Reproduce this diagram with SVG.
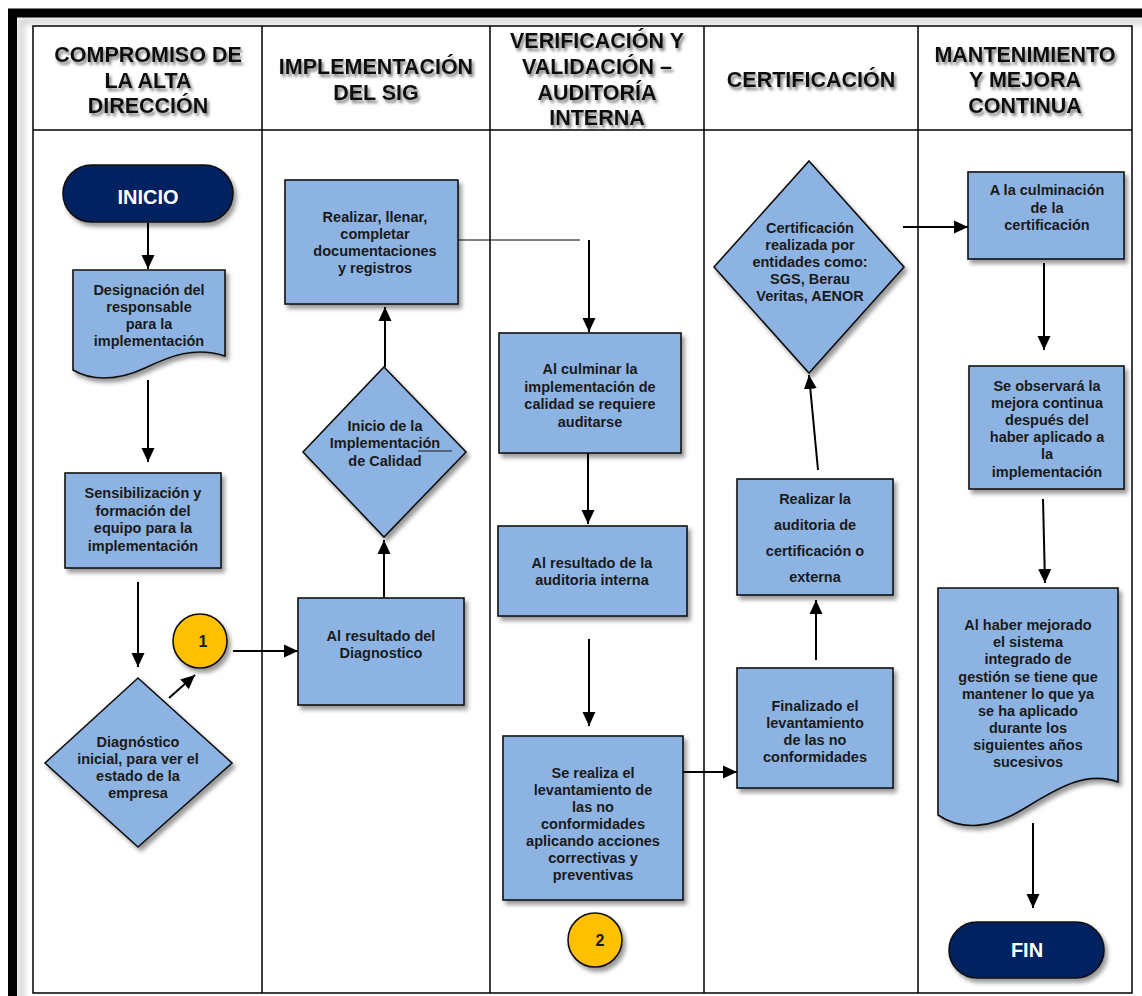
<svg xmlns="http://www.w3.org/2000/svg" width="1142" height="996" viewBox="0 0 1142 996">
<defs>
<style>
.hd{font-family:"Liberation Sans",Arial,sans-serif;font-weight:bold;font-size:21.5px;fill:#111;text-anchor:middle;filter:url(#tsh)}
.t{font-family:"Liberation Sans",Arial,sans-serif;font-weight:bold;font-size:14.5px;fill:#1a1a1a;text-anchor:middle}
.tw{font-family:"Liberation Sans",Arial,sans-serif;font-weight:bold;font-size:20px;fill:#fff;text-anchor:middle}
.num{font-family:"Liberation Sans",Arial,sans-serif;font-weight:bold;font-size:16px;fill:#1a1a1a;text-anchor:middle}
.n{fill:#8DB3E2;stroke:#111;stroke-width:1.6;filter:url(#sh)}
.term{fill:#002060;stroke:#111;stroke-width:1.6;filter:url(#sh)}
.circ{fill:#FFC000;stroke:#111;stroke-width:1.6;filter:url(#sh)}
.c{stroke:#000;stroke-width:2;fill:none;marker-end:url(#ah)}
.grid{stroke:#000;stroke-width:1.5;fill:none}
</style>
<filter id="sh" x="-20%" y="-20%" width="150%" height="150%"><feDropShadow dx="3" dy="4" stdDeviation="2.2" flood-color="#000" flood-opacity="0.4"/></filter>
<filter id="tsh" x="-10%" y="-30%" width="130%" height="180%"><feDropShadow dx="2" dy="3" stdDeviation="1.6" flood-color="#444" flood-opacity="0.7"/></filter>
<filter id="blur"><feGaussianBlur stdDeviation="3"/></filter>
<marker id="ah" viewBox="0 0 14 14" refX="14" refY="7" markerWidth="14" markerHeight="14" markerUnits="userSpaceOnUse" orient="auto"><path d="M0,0.5 L14,7 L0,13.5 Z" fill="#000"/></marker>
</defs>
<rect width="1142" height="996" fill="#fff"/>
<g id="frame">
<rect x="21" y="21" width="1140" height="1000" fill="none" stroke="#c8c8c8" stroke-width="5" filter="url(#blur)"/>
<rect x="12.5" y="13" width="1150" height="1010" fill="none" stroke="#000" stroke-width="9"/>
</g>
<g id="lanes">
<rect class="grid" x="33" y="26" width="1099" height="967"/>
<line class="grid" x1="33" y1="130" x2="1132" y2="130"/>
<line class="grid" x1="262" y1="26" x2="262" y2="993"/>
<line class="grid" x1="490" y1="26" x2="490" y2="993"/>
<line class="grid" x1="704" y1="26" x2="704" y2="993"/>
<line class="grid" x1="918" y1="26" x2="918" y2="993"/>
<text class="hd" x="148" y="62">COMPROMISO DE</text>
<text class="hd" x="148" y="88">LA ALTA</text>
<text class="hd" x="148" y="113">DIRECCIÓN</text>
<text class="hd" x="376" y="74">IMPLEMENTACIÓN</text>
<text class="hd" x="376" y="100">DEL SIG</text>
<text class="hd" x="597" y="48">VERIFICACIÓN Y</text>
<text class="hd" x="597" y="74">VALIDACIÓN –</text>
<text class="hd" x="597" y="100">AUDITORÍA</text>
<text class="hd" x="597" y="125">INTERNA</text>
<text class="hd" x="811" y="87">CERTIFICACIÓN</text>
<text class="hd" x="1025" y="62">MANTENIMIENTO</text>
<text class="hd" x="1025" y="87">Y MEJORA</text>
<text class="hd" x="1025" y="113">CONTINUA</text>
</g>
<g id="connectors">
<line class="c" x1="148" y1="223" x2="148" y2="269"/>
<line class="c" x1="148" y1="380" x2="148" y2="462"/>
<line class="c" x1="138" y1="582" x2="138" y2="667"/>
<line class="c" x1="169" y1="698" x2="195" y2="675"/>
<line class="c" x1="233" y1="651" x2="298" y2="651"/>
<line class="c" x1="384" y1="597" x2="384" y2="540"/>
<line class="c" x1="385" y1="367" x2="385" y2="307"/>
<line x1="458" y1="240" x2="580" y2="240" stroke="#000" stroke-width="1"/>
<line class="c" x1="589" y1="240" x2="589" y2="332"/>
<line class="c" x1="588" y1="453" x2="588" y2="524"/>
<line class="c" x1="589" y1="639" x2="589" y2="726"/>
<line class="c" x1="683" y1="772" x2="737" y2="772"/>
<line class="c" x1="816" y1="660" x2="816" y2="600"/>
<line class="c" x1="818" y1="470" x2="809" y2="375"/>
<line class="c" x1="903" y1="227" x2="968" y2="227"/>
<line class="c" x1="1044" y1="263" x2="1044" y2="350"/>
<line class="c" x1="1043" y1="499" x2="1045" y2="583"/>
<line class="c" x1="1033" y1="823" x2="1033" y2="908"/>
</g>
<g id="inicio">
<rect class="term" x="63" y="165" width="170" height="57" rx="28.5"/>
<text class="tw" x="148" y="204">INICIO</text>
</g>
<g id="designacion">
<path class="n" d="M73,270 H225 V356 C195,346 170,356 145,368 C115,382 90,380 73,370 Z"/>
<text class="t" x="149" y="295">Designación del</text>
<text class="t" x="149" y="312">responsable</text>
<text class="t" x="149" y="329">para la</text>
<text class="t" x="149" y="346">implementación</text>
</g>
<g id="sensibilizacion">
<rect class="n" x="65" y="473" width="156" height="95"/>
<text class="t" x="143" y="498">Sensibilización y</text>
<text class="t" x="143" y="516">formación del</text>
<text class="t" x="143" y="533">equipo para la</text>
<text class="t" x="143" y="551">implementación</text>
</g>
<g id="diagnostico">
<polygon class="n" points="138,678 232,763 138,847 45,763"/>
<text class="t" x="138" y="747">Diagnóstico</text>
<text class="t" x="138" y="764">inicial, para ver el</text>
<text class="t" x="138" y="781">estado de la</text>
<text class="t" x="138" y="798">empresa</text>
</g>
<g id="conector1">
<circle class="circ" cx="200" cy="641" r="27"/>
<text class="num" x="203" y="647">1</text>
</g>
<g id="resultado-diagnostico">
<rect class="n" x="298" y="598" width="166" height="107"/>
<text class="t" x="381" y="641">Al resultado del</text>
<text class="t" x="381" y="658">Diagnostico</text>
</g>
<g id="inicio-implementacion">
<polygon class="n" points="384,367 466,452 384,537 303,452"/>
<text class="t" x="385" y="431">Inicio de la</text>
<text class="t" x="385" y="448">Implementación</text>
<line x1="418" y1="451" x2="452" y2="451" stroke="#1a1a1a" stroke-width="1"/>
<text class="t" x="385" y="466">de Calidad</text>
</g>
<g id="realizar-documentaciones">
<rect class="n" x="285" y="180" width="173" height="124"/>
<text class="t" x="375" y="222">Realizar, llenar,</text>
<text class="t" x="375" y="239">completar</text>
<text class="t" x="375" y="256">documentaciones</text>
<text class="t" x="375" y="273">y registros</text>
</g>
<g id="culminar-implementacion">
<rect class="n" x="499" y="333" width="182" height="120"/>
<text class="t" x="590" y="374">Al culminar la</text>
<text class="t" x="590" y="392">implementación de</text>
<text class="t" x="590" y="409">calidad se requiere</text>
<text class="t" x="590" y="427">auditarse</text>
</g>
<g id="resultado-auditoria">
<rect class="n" x="498" y="526" width="189" height="90"/>
<text class="t" x="592" y="568">Al resultado de la</text>
<text class="t" x="592" y="585">auditoria interna</text>
</g>
<g id="levantamiento">
<rect class="n" x="503" y="736" width="180" height="164"/>
<text class="t" x="593" y="778">Se realiza el</text>
<text class="t" x="593" y="795">levantamiento de</text>
<text class="t" x="593" y="812">las no</text>
<text class="t" x="593" y="829">conformidades</text>
<text class="t" x="593" y="846">aplicando acciones</text>
<text class="t" x="593" y="863">correctivas y</text>
<text class="t" x="593" y="880">preventivas</text>
</g>
<g id="conector2">
<circle class="circ" cx="595" cy="940" r="27"/>
<text class="num" x="600" y="946">2</text>
</g>
<g id="finalizado">
<rect class="n" x="737" y="668" width="156" height="120"/>
<text class="t" x="815" y="711">Finalizado el</text>
<text class="t" x="815" y="728">levantamiento</text>
<text class="t" x="815" y="745">de las no</text>
<text class="t" x="815" y="762">conformidades</text>
</g>
<g id="auditoria-certificacion">
<rect class="n" x="737" y="479" width="156" height="116"/>
<text class="t" x="815" y="504">Realizar la</text>
<text class="t" x="815" y="530">auditoria de</text>
<text class="t" x="815" y="556">certificación o</text>
<text class="t" x="815" y="582">externa</text>
</g>
<g id="certificacion">
<polygon class="n" points="809,161 904,267 809,373 714,267"/>
<text class="t" x="810" y="233">Certificación</text>
<text class="t" x="810" y="250">realizada por</text>
<text class="t" x="810" y="267">entidades como:</text>
<text class="t" x="810" y="284">SGS, Berau</text>
<text class="t" x="810" y="301">Veritas, AENOR</text>
</g>
<g id="culminacion-certificacion">
<rect class="n" x="968" y="172" width="156" height="87"/>
<text class="t" x="1047" y="195">A la culminación</text>
<text class="t" x="1047" y="213">de la</text>
<text class="t" x="1047" y="230">certificación</text>
</g>
<g id="mejora-continua">
<rect class="n" x="969" y="366" width="155" height="123"/>
<text class="t" x="1047" y="391">Se observará la</text>
<text class="t" x="1047" y="408">mejora continua</text>
<text class="t" x="1047" y="425">después del</text>
<text class="t" x="1047" y="442">haber aplicado a</text>
<text class="t" x="1047" y="459">la</text>
<text class="t" x="1047" y="477">implementación</text>
</g>
<g id="mantener">
<path class="n" d="M938,588 H1118 V782 C1085,770 1055,790 1025,808 C990,830 960,830 938,815 Z"/>
<text class="t" x="1028" y="630">Al haber mejorado</text>
<text class="t" x="1028" y="647">el sistema</text>
<text class="t" x="1028" y="664">integrado de</text>
<text class="t" x="1028" y="682">gestión se tiene que</text>
<text class="t" x="1028" y="699">mantener lo que ya</text>
<text class="t" x="1028" y="716">se ha aplicado</text>
<text class="t" x="1028" y="733">durante los</text>
<text class="t" x="1028" y="750">siguientes años</text>
<text class="t" x="1028" y="767">sucesivos</text>
</g>
<g id="fin">
<rect class="term" x="949" y="922" width="155" height="56" rx="28"/>
<text class="tw" x="1027" y="957">FIN</text>
</g>
</svg>
